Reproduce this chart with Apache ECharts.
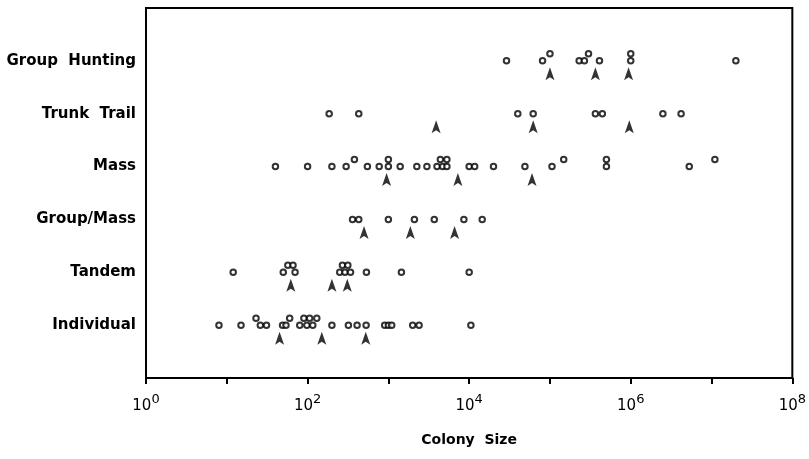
<!DOCTYPE html>
<html>
<head>
<meta charset="utf-8">
<script src="https://cdn.jsdelivr.net/npm/echarts@6.0.0/dist/echarts.min.js"></script>
<style>
  html, body { margin: 0; padding: 0; background: #fff; }
  #chart { width: 809px; height: 459px; }
</style>
</head>
<body>
<div id="chart"></div>
<script>
// rows, bottom to top
const categories = ['Individual', 'Tandem', 'Group/Mass', 'Mass', 'Trunk  Trail', 'Group  Hunting'];

// colony sizes as [size, stack level]; level 1 = dot drawn above a neighbour
const individualSizes = [[8, 0], [15, 0], [23, 1], [26, 0], [31, 0], [49, 0], [54, 0], [60, 1], [80, 0], [90, 1], [98, 0], [106, 1], [116, 0], [130, 1], [200, 0], [320, 0], [410, 0], [530, 0], [900, 0], [1000, 0], [1100, 0], [2000, 0], [2400, 0], [10500, 0]];
const tandemSizes = [[12, 0], [50, 0], [57, 1], [66, 1], [70, 0], [250, 0], [270, 1], [290, 0], [315, 1], [340, 0], [535, 0], [1450, 0], [10000, 0]];
const groupMassSizes = [[360, 0], [430, 0], [1000, 0], [2100, 0], [3700, 0], [8600, 0], [14500, 0]];
const massSizes = [[40, 0], [100, 0], [200, 0], [300, 0], [380, 1], [550, 0], [770, 0], [1000, 0], [1000, 1], [1400, 0], [2250, 0], [3000, 0], [4000, 0], [4400, 1], [4700, 0], [5300, 0], [5300, 1], [10000, 0], [11700, 0], [20000, 0], [49000, 0], [106000, 0], [148000, 1], [500000, 0], [500000, 1], [5300000, 0], [11000000, 1]];
const trunkTrailSizes = [[185, 0], [430, 0], [40000, 0], [62000, 0], [365000, 0], [445000, 0], [2500000, 0], [4200000, 0]];
const groupHuntingSizes = [[29000, 0], [81000, 0], [100000, 1], [230000, 0], [267000, 0], [300000, 1], [410000, 0], [1000000, 0], [1000000, 1], [20000000, 0]];

// arrow markers under each row
const individualArrows = [45, 150, 525];
const tandemArrows = [62, 200, 310];
const groupMassArrows = [500, 1870, 6600];
const massArrows = [950, 7250, 60000];
const trunkTrailArrows = [3900, 62000, 960000];
const groupHuntingArrows = [100000, 365000, 940000];

const xTickExponents = [0, 2, 4, 6, 8];

const rows = [individualSizes, tandemSizes, groupMassSizes, massSizes, trunkTrailSizes, groupHuntingSizes];
const arrows = [individualArrows, tandemArrows, groupMassArrows, massArrows, trunkTrailArrows, groupHuntingArrows];

const lowDots = [];
const highDots = [];
rows.forEach((row, i) => {
  row.forEach(([size, level]) => {
    (level ? highDots : lowDots).push([size, i + 1]);
  });
});
const arrowDots = [];
arrows.forEach((row, i) => row.forEach(size => arrowDots.push([size, i + 1])));

const chart = echarts.init(document.getElementById('chart'));

const dotStyle = {
  type: 'scatter',
  symbol: 'emptyCircle',
  symbolSize: 5.5,
  itemStyle: { color: '#000', borderWidth: 2 },
  silent: true
};

chart.setOption({
  animation: false,
  backgroundColor: '#fff',
  grid: {
    left: 146, right: 16, top: 8, bottom: 81,
    show: true, borderColor: '#000', borderWidth: 2
  },
  xAxis: {
    type: 'log',
    logBase: 10,
    min: 1,
    max: 1e8,
    splitNumber: 8,
    name: 'Colony  Size',
    nameLocation: 'middle',
    nameGap: 55,
    nameTextStyle: { fontFamily: 'DejaVu Sans', fontWeight: 'bold', fontSize: 14, color: '#000' },
    axisLine: { show: true, lineStyle: { color: '#000', width: 2 } },
    axisTick: { show: true, length: 6, lineStyle: { color: '#000', width: 2 } },
    splitLine: { show: false },
    minorTick: { show: false },
    axisLabel: {
      margin: 15,
      formatter: v => {
        const e = Math.round(Math.log10(v));
        return xTickExponents.includes(e) ? '{b|10}{s|' + e + '}' : '';
      },
      rich: {
        b: { fontFamily: 'DejaVu Sans', fontSize: 15, color: '#000', lineHeight: 26 },
        s: { fontFamily: 'DejaVu Sans', fontSize: 13, color: '#000', lineHeight: 10, verticalAlign: 'top' }
      }
    }
  },
  yAxis: {
    type: 'value',
    min: 0,
    max: 7,
    interval: 1,
    axisLine: { show: false },
    axisTick: { show: false },
    splitLine: { show: false },
    axisLabel: {
      margin: 10,
      fontFamily: 'DejaVu Sans',
      fontWeight: 'bold',
      fontSize: 15,
      color: '#000',
      formatter: v => categories[v - 1] || ''
    }
  },
  series: [
    Object.assign({ data: lowDots }, dotStyle),
    Object.assign({ data: highDots, symbolOffset: [0, -7] }, dotStyle),
    {
      type: 'scatter',
      data: arrowDots,
      symbol: 'path://M4.5,0 L9,13 L4.5,10 L0,13 Z',
      symbolSize: [9, 13],
      symbolOffset: [0, 13],
      itemStyle: { color: '#000' },
      silent: true
    }
  ]
});
</script>
</body>
</html>
